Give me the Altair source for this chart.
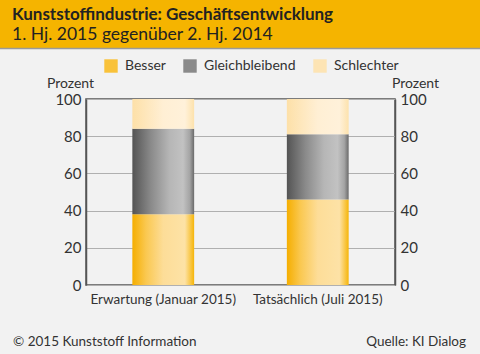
import altair as alt
import pandas as pd

categories = ["Erwartung (Januar 2015)", "Tatsächlich (Juli 2015)"]
series = ["Besser", "Gleichbleibend", "Schlechter"]
besser = [38, 46]
gleich = [46, 35]
schlechter = [16, 19]
y_ticks = [0, 20, 40, 60, 80, 100]

rows = []
for i, c in enumerate(categories):
    for j, (s, vals) in enumerate(zip(series, [besser, gleich, schlechter])):
        rows.append({"category": c, "series": s, "order": j, "value": vals[i]})
df = pd.DataFrame(rows)

FONT = "Lato"
TXT = "#333333"

def grad(stops):
    return alt.Gradient(
        gradient="linear",
        stops=[alt.GradientStop(color=c, offset=o) for o, c in stops],
        x1=0, x2=1, y1=0, y2=0,
    )

grads = {
    "Besser": grad([(0, "#f5ae00"), (0.22, "#fac850"), (0.5, "#fddd98"), (0.85, "#fde2a6"), (1, "#f6b508")]),
    "Gleichbleibend": grad([(0, "#545454"), (0.3, "#8a8a8a"), (0.6, "#b6b6b6"), (0.82, "#c2c2c2"), (0.93, "#a4a4a4"), (1, "#6a6a6a")]),
    "Schlechter": grad([(0, "#fde0a8"), (0.5, "#ffefd4"), (0.85, "#fff1da"), (1, "#fde2ac")]),
}
legend_colors = ["#f9c23a", "#8a8a8a", "#fde4b4"]

base = alt.Chart(df).transform_stack(
    stack="value", as_=["y0", "y1"], groupby=["category"],
    sort=[alt.SortField("order", order="ascending")],
)

xenc = alt.X(
    "category:N", sort=categories,
    scale=alt.Scale(paddingInner=0.6, paddingOuter=0.3),
    axis=alt.Axis(title=None, labelAngle=0, ticks=False, domain=False,
                  labelFontSize=13.5, labelColor=TXT, labelFont=FONT, labelPadding=7),
)
yscale = alt.Scale(domain=[0, 100], nice=False)

left_axis = alt.Axis(
    orient="left", values=y_ticks, grid=True, gridColor="#b0b0b0", gridWidth=1,
    domainColor="#555555", domainWidth=1.5, ticks=False,
    labelFontSize=15, labelColor=TXT, labelFont=FONT, labelPadding=5,
    title="Prozent", titleAngle=0, titleX=-16, titleY=-12, titleAlign="center",
    titleBaseline="alphabetic", titleFontSize=14, titleFontWeight="normal",
    titleFont=FONT, titleColor=TXT)

bars = []
for k, s in enumerate(series):
    bars.append(
        base.transform_filter(alt.datum.series == s).mark_bar(fill=grads[s], stroke=None).encode(
            x=xenc,
            y=alt.Y("y1:Q", scale=yscale, axis=left_axis if k == 0 else None),
            y2="y0:Q",
        )
    )

legend_layer = alt.Chart(df).mark_square(opacity=0).encode(
    x=xenc,
    y=alt.Y("value:Q", scale=yscale, axis=None),
    color=alt.Color("series:N", scale=alt.Scale(domain=series, range=legend_colors),
                    legend=alt.Legend(orient="none", legendX=18, legendY=-40, direction="horizontal",
                                      columns=3, title=None, symbolType="square", symbolSize=180,
                                      symbolOpacity=1, symbolStrokeWidth=0, labelFontSize=14,
                                      labelFont=FONT, labelColor=TXT, labelOffset=7,
                                      columnPadding=17, padding=0)),
)

right_axis = alt.Chart(df).mark_point(opacity=0).encode(
    x=xenc,
    y=alt.Y("value:Q", scale=yscale, axis=alt.Axis(
        orient="right", values=y_ticks, grid=False, domainColor="#555555", domainWidth=1.5,
        ticks=False, labelFontSize=15, labelColor=TXT, labelFont=FONT, labelPadding=5,
        title="Prozent", titleAngle=0, titleX=20, titleY=-12, titleAlign="center",
        titleBaseline="alphabetic", titleFontSize=14, titleFontWeight="normal",
        titleFont=FONT, titleColor=TXT)),
)

deco_df = pd.DataFrame({"k": [0]})
band = alt.Chart(deco_df).mark_rect(color="#f5b400", clip=False).encode(
    x=alt.value(-86), x2=alt.value(394), y=alt.value(-99), y2=alt.value(-51))
band_line = alt.Chart(deco_df).mark_rule(color="#9a9a9a", strokeWidth=1.5, clip=False).encode(
    x=alt.value(-86), x2=alt.value(394), y=alt.value(-50.5))
title = alt.Chart(deco_df).mark_text(align="left", baseline="alphabetic", font=FONT, fontSize=17,
                                     fontWeight="bold", color="#222222").encode(
    x=alt.value(-74), y=alt.value(-79.5), text=alt.value("Kunststoffindustrie: Geschäftsentwicklung"))
subtitle = alt.Chart(deco_df).mark_text(align="left", baseline="alphabetic", font=FONT, fontSize=17.5,
                                        color="#222222").encode(
    x=alt.value(-74), y=alt.value(-59), text=alt.value("1. Hj. 2015 gegenüber 2. Hj. 2014"))
foot_l = alt.Chart(deco_df).mark_text(align="left", baseline="alphabetic", font=FONT, fontSize=13.5,
                                      color=TXT).encode(
    x=alt.value(-73), y=alt.value(247), text=alt.value("© 2015 Kunststoff Information"))
foot_r = alt.Chart(deco_df).mark_text(align="right", baseline="alphabetic", font=FONT, fontSize=13.5,
                                      color=TXT).encode(
    x=alt.value(380), y=alt.value(247), text=alt.value("Quelle: KI Dialog"))

chart = alt.layer(
    *bars, legend_layer, right_axis, band, band_line, title, subtitle, foot_l, foot_r
).resolve_scale(y="independent").resolve_axis(y="independent").properties(
    width=309, height=186,
    autosize=alt.AutoSizeParams(type="none"),
    padding={"left": 86, "top": 99, "right": 85, "bottom": 69},
    background="#f2f2f2",
).configure_view(stroke="#555555", strokeWidth=1.5)

chart.save("out.html", embed_options={"renderer": "svg", "actions": False})
